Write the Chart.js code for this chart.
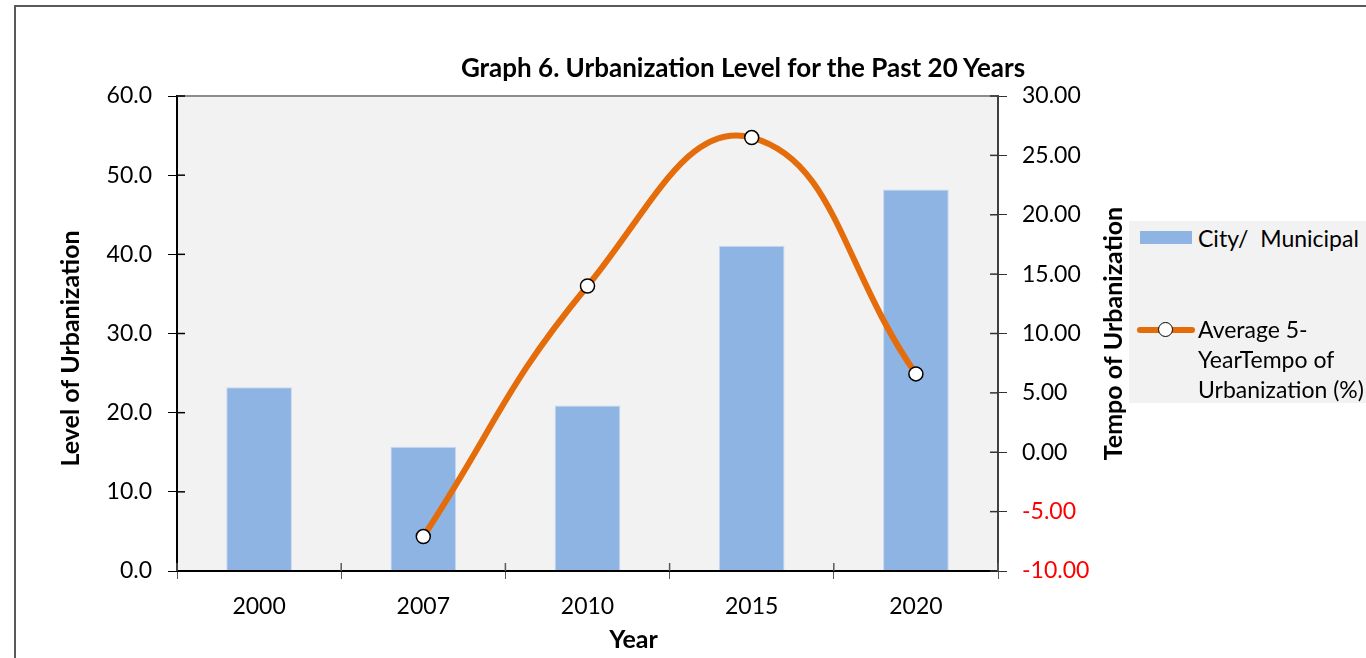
<!DOCTYPE html>
<html>
<head>
<meta charset="utf-8">
<script src="https://cdn.jsdelivr.net/npm/chart.js@4.4.1/dist/chart.umd.min.js"></script>
<style>
    body { margin: 0; background: #fff; font-family: Lato, sans-serif; }
    #wrap { position: relative; width: 1366px; height: 658px; overflow: hidden; }
    #frame { position: absolute; left: 14px; top: 5px; width: 1400px; height: 700px;
             border-left: 2px solid #595959; border-top: 2px solid #595959; }
    canvas { position: absolute; left: 0; top: 0; }
    #title { position: absolute; left: 393px; width: 700px; top: 51px; text-align: center;
             font-weight: bold; font-size: 26px; color: #000; white-space: nowrap; }
    #legend { position: absolute; left: 1129px; top: 221px; width: 240px; height: 182px; background: #f2f2f2; }
    .swatch { position: absolute; left: 11px; top: 10px; width: 52px; height: 13px; background: #8eb4e3; }
    .lineMark { position: absolute; left: 8px; top: 106px; width: 58px; height: 6px; background: #e46c0a; border-radius: 3px; }
    .dot { position: absolute; left: 29px; top: 101px; width: 13px; height: 13px; border-radius: 50%;
           background: #fff; border: 1.5px solid #000; }
    .txt { position: absolute; left: 69px; font-size: 23px; line-height: 30px; color: #000; white-space: pre; }
</style>
</head>
<body>
<div id="wrap">
    <div id="frame"></div>
    <canvas id="urbanChart" width="1366" height="658"></canvas>
    <div id="title">Graph 6. Urbanization Level for the Past 20 Years</div>
    <div id="legend">
        <div class="swatch"></div>
        <div class="txt" id="leg1" style="top:2px"></div>
        <div class="lineMark"></div>
        <div class="dot"></div>
        <div class="txt" id="leg2" style="top:93px"></div>
    </div>
</div>
<script>
const years = ['2000', '2007', '2010', '2015', '2020'];
const cityLevel = [23.2, 15.7, 20.9, 41.1, 48.2];
const tempo = [null, -7.1, 14.0, 26.5, 6.6];
const seriesNames = ['City/  Municipal', 'Average 5-\nYearTempo of\nUrbanization (%)'];
const leftRange = [0, 60, 10];
const rightRange = [-10, 30, 5];

document.getElementById('leg1').textContent = seriesNames[0];
document.getElementById('leg2').textContent = seriesNames[1];

const FONT = 'Lato';

// plot background, top border, inner tick halves, axis titles
const decor = {
    id: 'decor',
    beforeDraw(chart) {
        const { ctx, chartArea: a } = chart;
        ctx.save();
        ctx.fillStyle = '#f2f2f2';
        ctx.fillRect(a.left, a.top, a.right - a.left, a.bottom - a.top);
        ctx.restore();
    },
    afterDraw(chart) {
        const { ctx, chartArea: a, scales } = chart;
        ctx.save();
        ctx.strokeStyle = '#8c8c8c';
        ctx.lineWidth = 2;
        ctx.beginPath();
        ctx.moveTo(a.left, a.top);
        ctx.lineTo(a.right, a.top);
        ctx.stroke();

        ctx.lineWidth = 1.5;
        ctx.strokeStyle = '#000';
        scales.y.ticks.forEach((t, i) => {
            const py = scales.y.getPixelForTick(i);
            ctx.beginPath();
            ctx.moveTo(a.left, py);
            ctx.lineTo(a.left + 8, py);
            ctx.stroke();
        });
        ctx.strokeStyle = '#333';
        scales.y1.ticks.forEach((t, i) => {
            const py = scales.y1.getPixelForTick(i);
            ctx.beginPath();
            ctx.moveTo(a.right - 8, py);
            ctx.lineTo(a.right, py);
            ctx.stroke();
        });
        ctx.strokeStyle = '#595959';
        const step = (scales.x.right - scales.x.left) / years.length;
        for (let i = 0; i <= years.length; i++) {
            const px = scales.x.left + i * step;
            ctx.beginPath();
            ctx.moveTo(px, a.bottom - 8);
            ctx.lineTo(px, a.bottom);
            ctx.stroke();
        }

        ctx.fillStyle = '#000';
        ctx.font = 'bold 25px ' + FONT;
        ctx.textAlign = 'center';
        ctx.textBaseline = 'middle';
        ctx.fillText('Year', (a.left + a.right) / 2 + 46, 640);

        ctx.save();
        ctx.translate(71, (a.top + a.bottom) / 2 + 15);
        ctx.rotate(-Math.PI / 2);
        ctx.fillText('Level of Urbanization', 0, 0);
        ctx.restore();

        ctx.translate(1114, (a.top + a.bottom) / 2);
        ctx.rotate(-Math.PI / 2);
        ctx.fillText('Tempo of Urbanization', 0, 0);
        ctx.restore();
    }
};

const ctx = document.getElementById('urbanChart').getContext('2d');

new Chart(ctx, {
    type: 'bar',
    data: {
        labels: years,
        datasets: [
            {
                type: 'line',
                label: seriesNames[1],
                data: tempo,
                yAxisID: 'y1',
                borderColor: '#e46c0a',
                borderWidth: 6,
                tension: 0.45,
                pointRadius: 7,
                pointBackgroundColor: '#fff',
                pointBorderColor: '#000',
                pointBorderWidth: 1.5,
                order: 0
            },
            {
                label: seriesNames[0],
                data: cityLevel,
                yAxisID: 'y',
                backgroundColor: '#8eb4e3',
                borderColor: '#c5d9f1',
                borderWidth: 1,
                barPercentage: 0.4,
                categoryPercentage: 1.0,
                order: 1
            }
        ]
    },
    options: {
        responsive: false,
        animation: false,
        devicePixelRatio: 1,
        layout: {
            padding: { left: 50, right: 237, top: 96, bottom: 0 }
        },
        plugins: {
            legend: { display: false },
            title: { display: false },
            tooltip: { enabled: false }
        },
        scales: {
            x: {
                afterFit(scale) { scale.height = 87; },
                grid: { display: true, drawOnChartArea: false, tickLength: 8, color: '#595959', offset: true },
                border: { color: '#000', width: 2, z: 1 },
                ticks: { color: '#000', font: { family: FONT, size: 23 }, padding: 14, maxRotation: 0 }
            },
            y: {
                position: 'left',
                min: leftRange[0],
                max: leftRange[1],
                afterFit(scale) { scale.width = 127; },
                grid: { drawOnChartArea: false, tickLength: 9, color: '#000' },
                border: { color: '#000', width: 2, z: 1 },
                ticks: {
                    stepSize: leftRange[2],
                    color: '#000',
                    padding: 16,
                    font: { family: FONT, size: 23 },
                    callback: v => v.toFixed(1)
                }
            },
            y1: {
                position: 'right',
                min: rightRange[0],
                max: rightRange[1],
                afterFit(scale) { scale.width = 131; },
                grid: { drawOnChartArea: false, tickLength: 9, color: '#333' },
                border: { color: '#404040', width: 2, z: 1 },
                ticks: {
                    stepSize: rightRange[2],
                    padding: 15,
                    font: { family: FONT, size: 23 },
                    color: c => (c.tick && c.tick.value < 0 ? '#ff0000' : '#000'),
                    callback: v => v.toFixed(2)
                }
            }
        }
    },
    plugins: [decor]
});
</script>
</body>
</html>
